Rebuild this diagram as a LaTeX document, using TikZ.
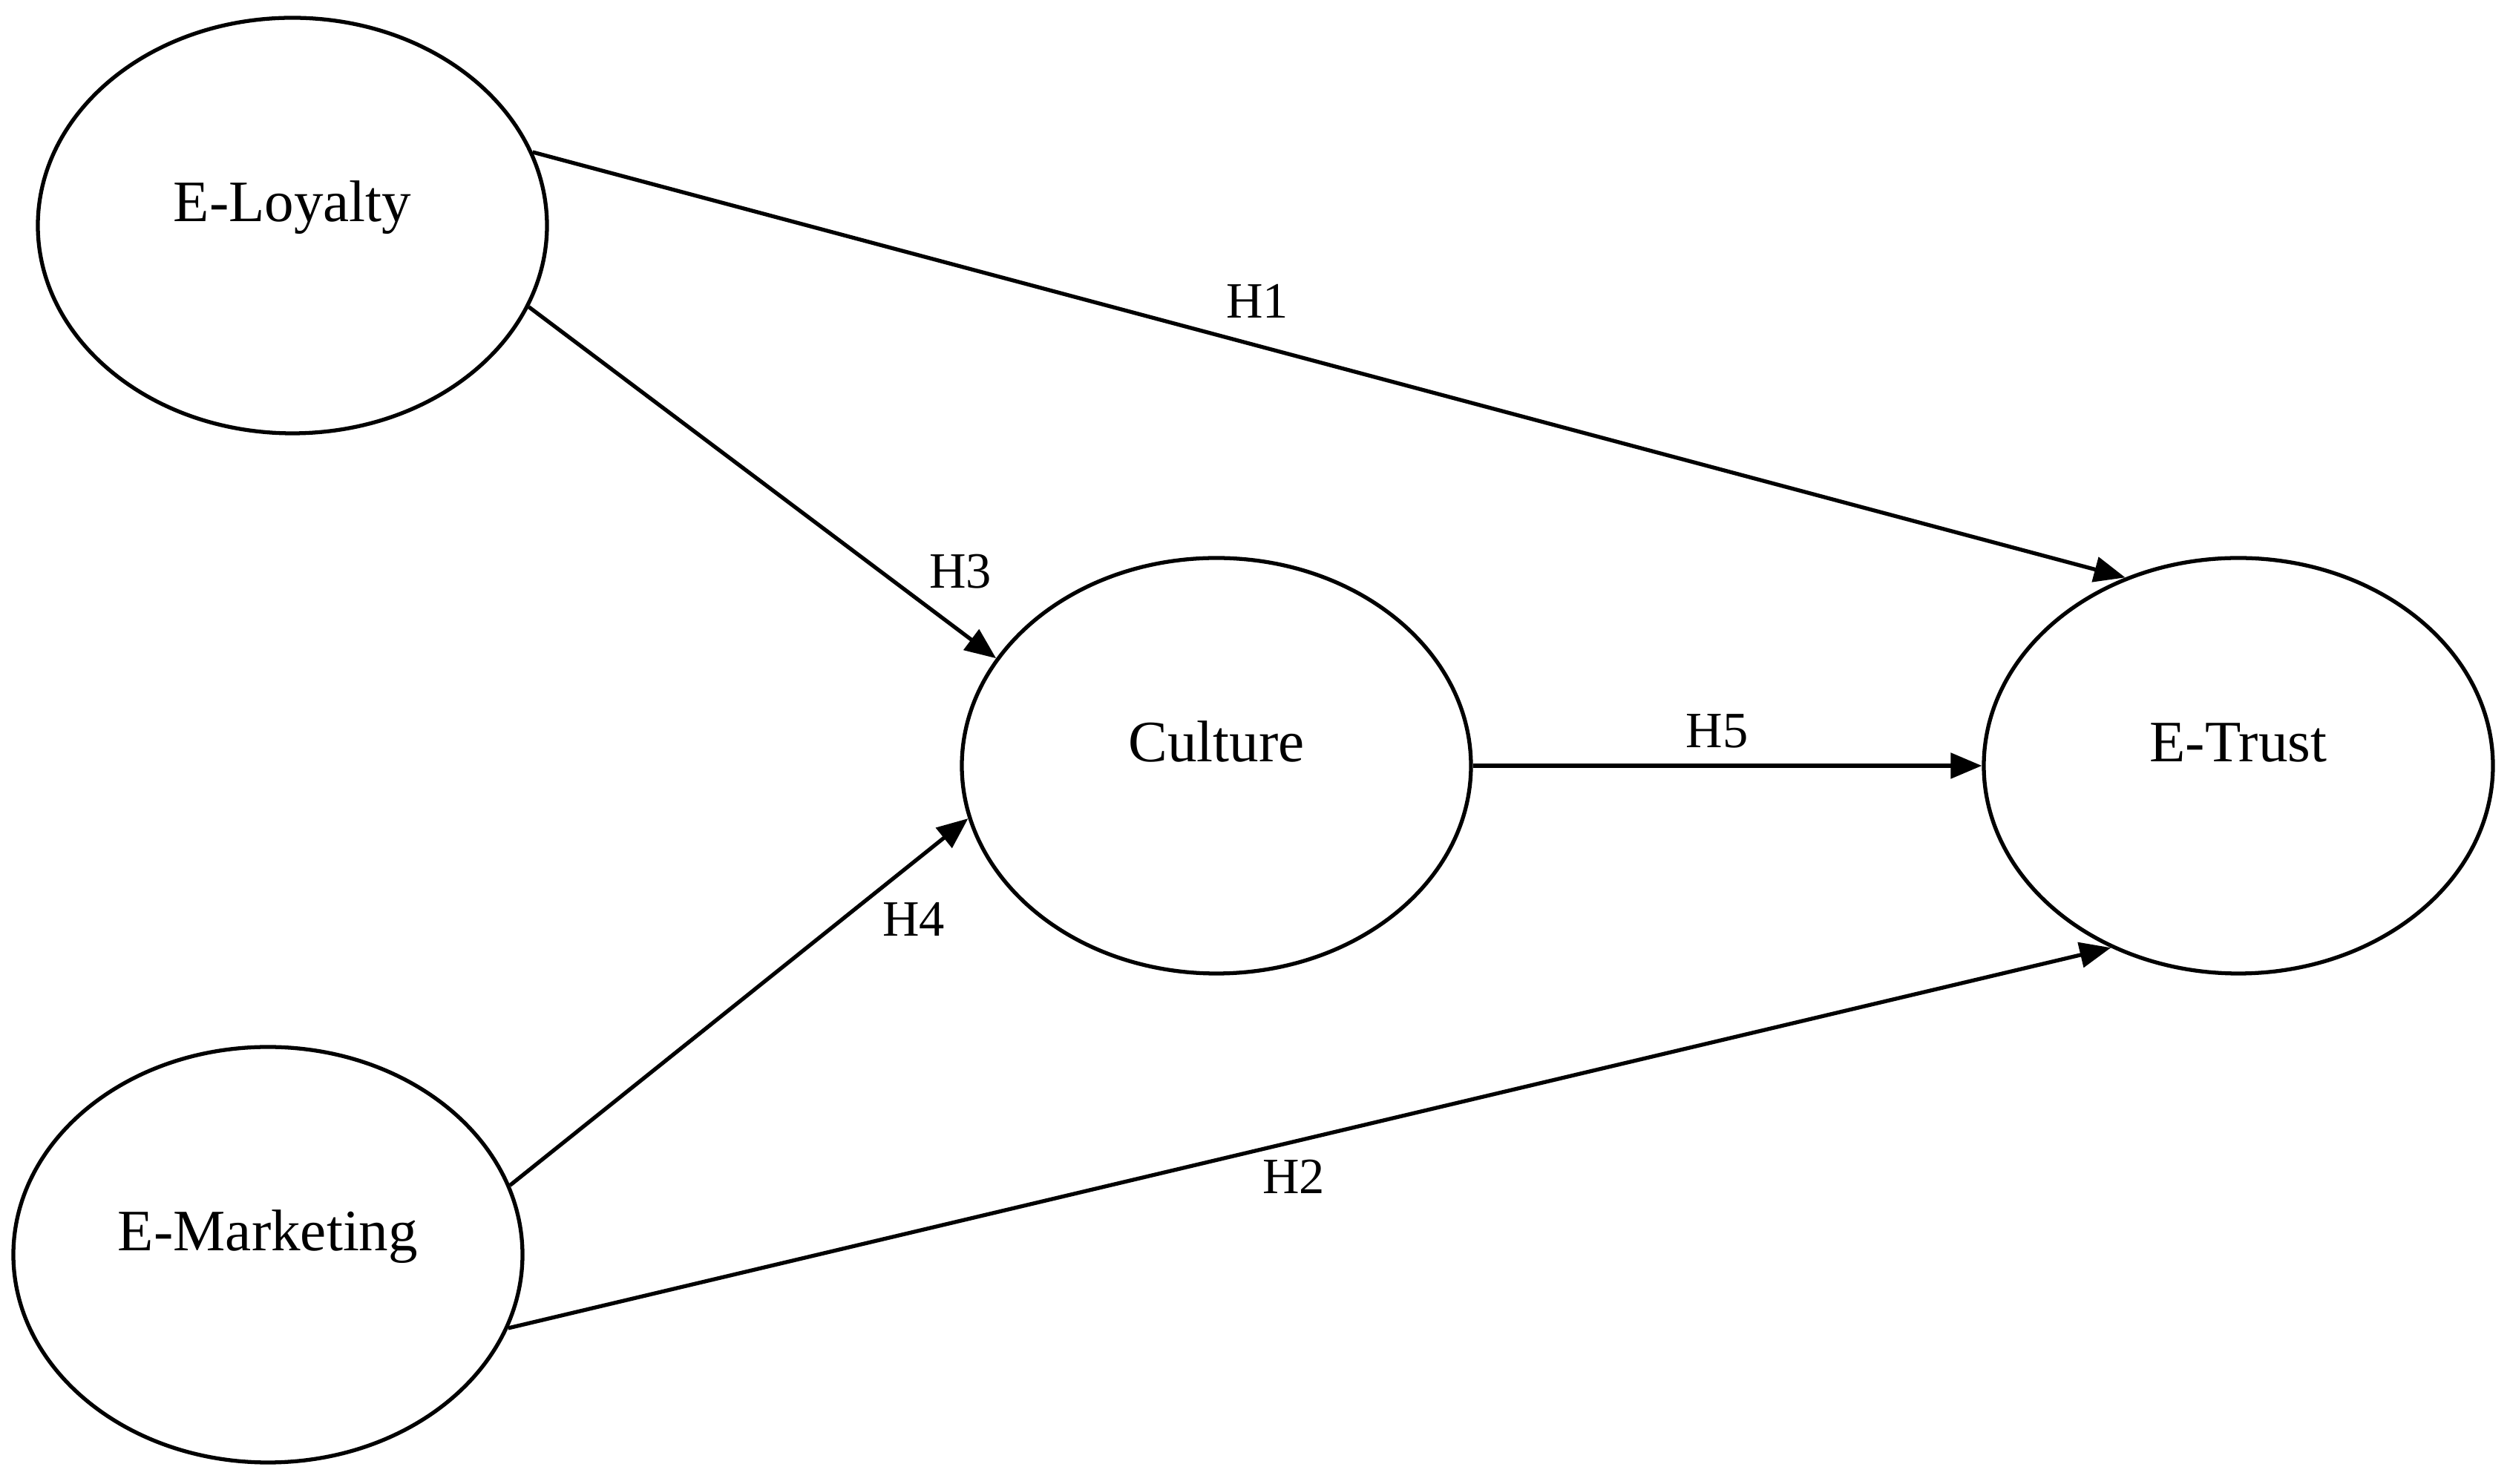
\documentclass[tikz,border=0pt]{standalone}
\usepackage{fontspec}
\setmainfont{Liberation Serif}
\usetikzlibrary{shapes.geometric,arrows.meta}
\begin{document}
\begin{tikzpicture}[
	construct/.style={draw, ellipse, line width=1.5pt, minimum width=6.86cm, minimum height=5.6cm, inner sep=0pt, text height=0.5cm, text depth=0.6cm, font=\fontsize{22.5}{26}\selectfont},
	hyp/.style={-{Triangle[length=0.42cm,width=0.34cm]}, line width=1.5pt},
	hlabel/.style={font=\fontsize{19.5}{22}\selectfont, inner sep=0pt}]
				\useasboundingbox (0,0) rectangle (33.82,20);
				\node[construct] (loy) at (3.94,16.96) {E-Loyalty};
				\node[construct] (mkt) at (3.61,3.09) {E-Marketing};
				\node[construct] (cul) at (16.39,9.68) {Culture};
				\node[construct] (tru) at (30.16,9.68) {E-Trust};
				\draw[hyp] (loy.17.5) to node[hlabel, pos=0.455, yshift=0.6cm] {H1} (tru.121);
				\draw[hyp] (mkt.-17.2) to node[hlabel, pos=0.49, yshift=-0.47cm] {H2} (tru.235);
				\draw[hyp] (loy.-19) to node[hlabel, pos=0.86, xshift=0.4cm, yshift=0.51cm] {H3} (cul.154);
				\draw[hyp] (mkt.16.3) to node[hlabel, pos=0.82, xshift=0.38cm, yshift=-0.47cm] {H4} (cul.192);
				\draw[hyp] (cul) to node[hlabel, pos=0.48, yshift=0.47cm] {H5} (tru);
			\end{tikzpicture}
\end{document}
